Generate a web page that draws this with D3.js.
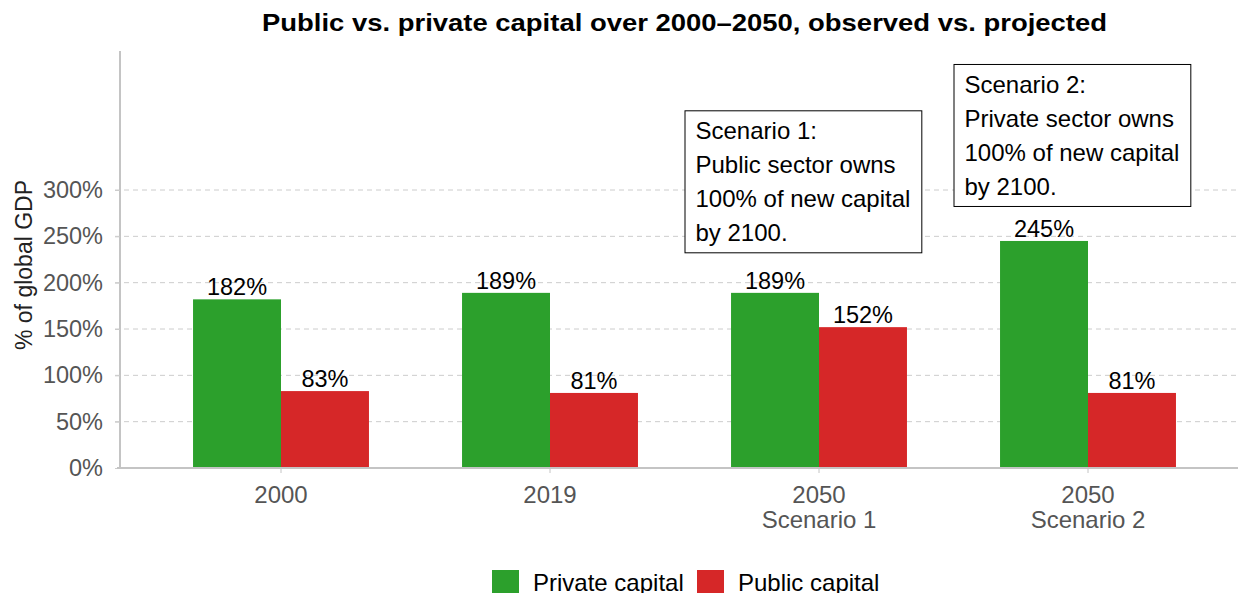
<!DOCTYPE html>
<html>
<head>
<meta charset="utf-8">
<script src="https://cdn.jsdelivr.net/npm/d3@7"></script>
<style>
  html, body { margin: 0; padding: 0; background: #fff; }
  svg { display: block; font-family: "Liberation Sans", Arial, Helvetica, sans-serif; }
</style>
</head>
<body>
<svg id="chart" width="1239" height="593"></svg>
<script>
// Capital stocks as % of global GDP
const categories = ["2000", "2019", "2050\nScenario 1", "2050\nScenario 2"];
const seriesNames = ["Private capital", "Public capital"];
const privateCapital = [182, 189, 189, 245];
const publicCapital = [83, 81, 152, 81];
const seriesColors = ["#2ca02c", "#d62728"];
const yTicks = [0, 50, 100, 150, 200, 250, 300];

// Scenario notes: category they sit over, top edge (% of GDP), text lines
const noteCategories = ["2050\nScenario 1", "2050\nScenario 2"];
const noteTops = [386, 436];
const noteLines = [
  ["Scenario 1:", "Public sector owns", "100% of new capital", "by 2100."],
  ["Scenario 2:", "Private sector owns", "100% of new capital", "by 2100."]
];

const svg = d3.select("#chart");
const plotLeft = 120, plotRight = 1238, plotTop = 51, plotBottom = 468;

const x = d3.scaleBand()
  .domain(categories)
  .range([146.5, 1222.5])
  .paddingInner(0.346)
  .paddingOuter(0.173);
const xs = d3.scaleBand().domain(seriesNames).range([0, x.bandwidth()]);
const y = d3.scaleLinear().domain([0, 450]).range([plotBottom, plotTop]);

// Title (bold, set wide)
svg.append("text")
  .attr("x", 262).attr("y", 31)
  .attr("font-size", 24).attr("font-weight", "bold").attr("fill", "#000")
  .attr("textLength", 845).attr("lengthAdjust", "spacingAndGlyphs")
  .text("Public vs. private capital over 2000\u20132050, observed vs. projected");

// Horizontal dashed grid
svg.append("g").selectAll("line").data(yTicks.filter(d => d > 0)).join("line")
  .attr("x1", 115).attr("x2", plotRight)
  .attr("y1", d => y(d)).attr("y2", d => y(d))
  .attr("stroke", "#cccccc").attr("stroke-width", 1)
  .attr("stroke-dasharray", "5,4");

// Y axis
const yAxis = svg.append("g").attr("transform", `translate(${plotLeft},0)`)
  .call(d3.axisLeft(y).tickValues(yTicks).tickFormat(d => d + "%").tickSize(5).tickPadding(12));
yAxis.select(".domain").attr("stroke", "#c4c4c4").attr("stroke-width", 2)
  .attr("d", `M0,${plotBottom}V${plotTop}`);
yAxis.selectAll(".tick line").attr("stroke", "#cccccc");
yAxis.selectAll(".tick text").attr("font-size", 23.5).attr("fill", "#555")
  .attr("font-family", "Liberation Sans, Arial, sans-serif");

// Y axis label
svg.append("text")
  .attr("transform", `translate(32,${265}) rotate(-90)`)
  .attr("text-anchor", "middle")
  .attr("font-size", 23).attr("fill", "#222")
  .text("% of global GDP");

// Bars
const rows = categories.map((c, i) => ({ cat: c, values: [privateCapital[i], publicCapital[i]] }));
const groups = svg.append("g").selectAll("g").data(rows).join("g")
  .attr("transform", d => `translate(${x(d.cat)},0)`);
groups.selectAll("rect")
  .data(d => d.values.map((v, k) => ({ name: seriesNames[k], v, k })))
  .join("rect")
  .attr("x", d => xs(d.name)).attr("width", xs.bandwidth())
  .attr("y", d => y(d.v)).attr("height", d => y(0) - y(d.v))
  .attr("fill", d => seriesColors[d.k]);
groups.selectAll("text.val")
  .data(d => d.values.map((v, k) => ({ name: seriesNames[k], v, k })))
  .join("text").attr("class", "val")
  .attr("x", d => xs(d.name) + xs.bandwidth() / 2)
  .attr("y", d => y(d.v) - 4)
  .attr("text-anchor", "middle")
  .attr("font-size", 23.5).attr("fill", "#000")
  .text(d => d.v + "%");

// X axis
const xAxis = svg.append("g").attr("transform", `translate(0,${plotBottom})`)
  .call(d3.axisBottom(x).tickSize(5).tickFormat(""));
xAxis.select(".domain").attr("stroke", "#c4c4c4").attr("stroke-width", 2)
  .attr("d", `M${plotLeft - 3},0H${plotRight}`);
xAxis.selectAll(".tick line").attr("stroke", "#c4c4c4");
xAxis.selectAll(".tick").each(function (d) {
  const t = d3.select(this).append("text")
    .attr("text-anchor", "middle").attr("font-size", 24).attr("fill", "#555")
    .attr("font-family", "Liberation Sans, Arial, sans-serif");
  d.split("\n").forEach((line, i) => {
    t.append("tspan").attr("x", 0).attr("y", 35 + i * 25).text(line);
  });
});

// Scenario note boxes
noteCategories.forEach((cat, i) => {
  const bx = x(cat) - x.step() * x.paddingInner() / 2;
  const by = y(noteTops[i]);
  const g = svg.append("g");
  const rect = g.append("rect").attr("fill", "#fff").attr("stroke", "#000").attr("stroke-width", 1);
  const t = g.append("text").attr("font-size", 24).attr("fill", "#000");
  noteLines[i].forEach((line, j) => {
    t.append("tspan").attr("x", bx + 11).attr("y", by + 29 + j * 34).text(line);
  });
  const bb = t.node().getBBox();
  rect.attr("x", bx + 0.5).attr("y", by + 0.5)
    .attr("width", bb.width + 22).attr("height", 4 * 34 + 6);
});

// Legend
const legend = svg.append("g");
const legendX = [492, 697];
seriesNames.forEach((name, i) => {
  legend.append("rect").attr("x", legendX[i]).attr("y", 570)
    .attr("width", 27).attr("height", 27).attr("fill", seriesColors[i]);
  legend.append("text").attr("x", legendX[i] + 41).attr("y", 591)
    .attr("font-size", 24).attr("fill", "#000").text(name);
});
</script>
</body>
</html>
